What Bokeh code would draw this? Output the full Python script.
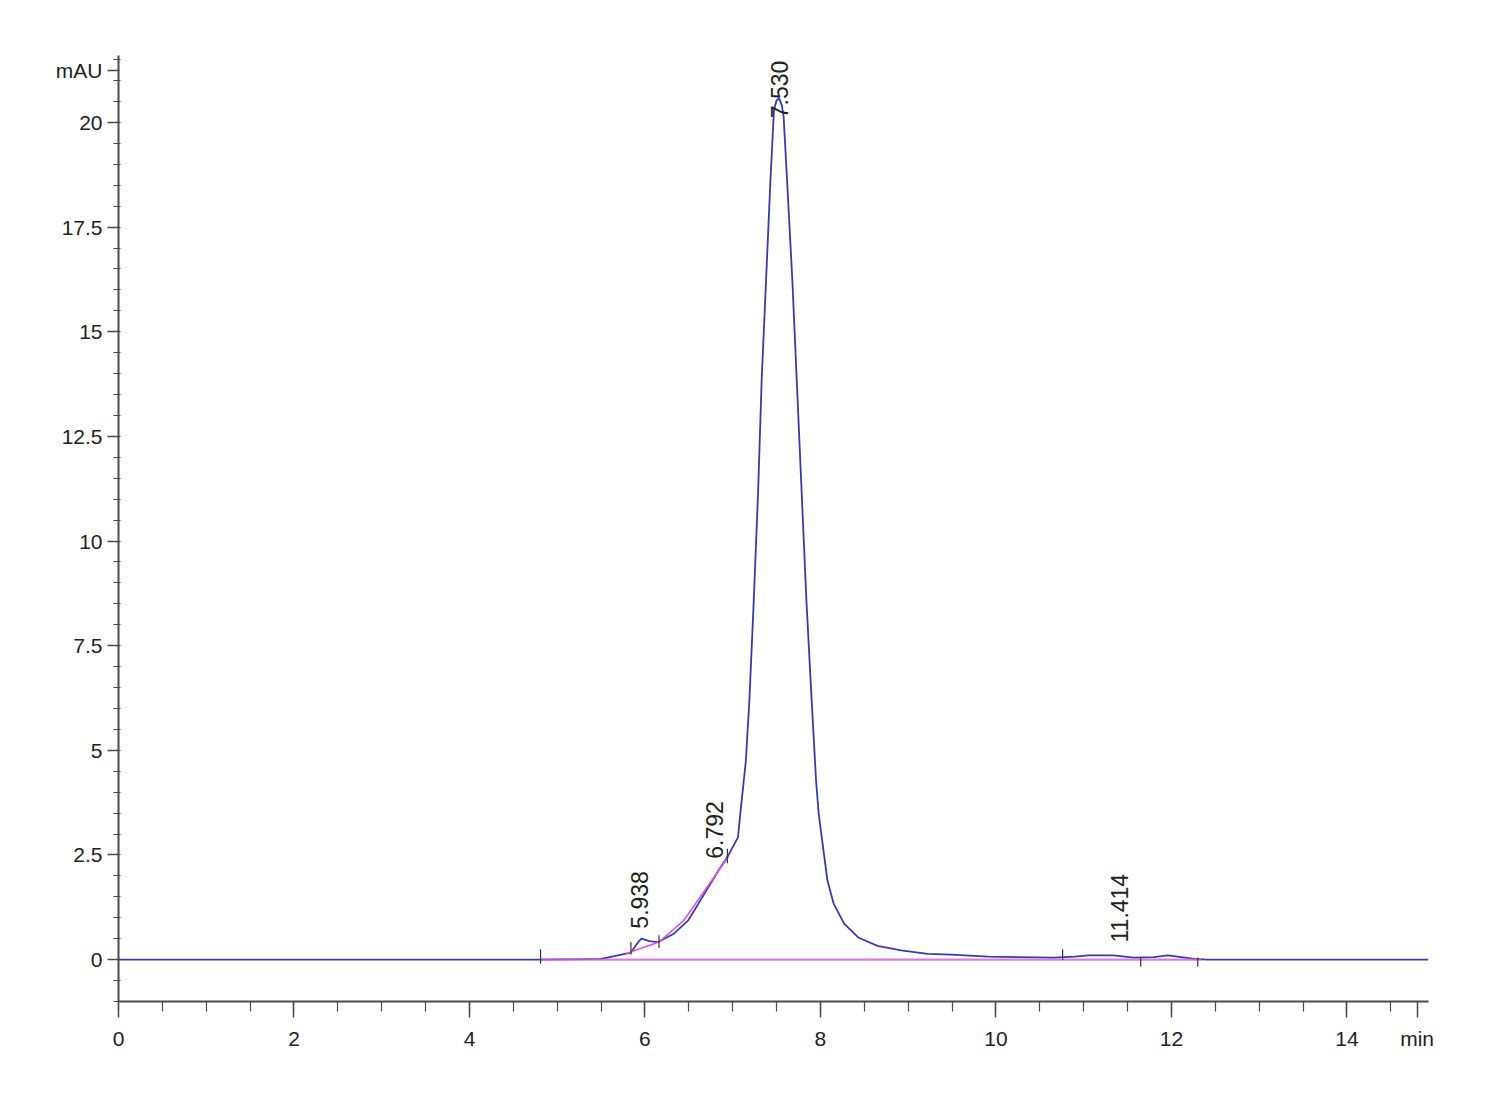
import math
from bokeh.plotting import figure
from bokeh.models import Range1d, FixedTicker, ColumnDataSource
from bokeh.core.properties import value
from bokeh.embed import file_html
from bokeh.resources import INLINE

# ---- data ----
time_min = [0.0, 2.0, 4.0, 4.81, 5.30, 5.50, 5.69, 5.84, 5.92, 5.96, 6.05, 6.15, 6.33,
            6.49, 6.56, 6.72, 6.86, 6.95, 7.06, 7.09, 7.13, 7.15, 7.19, 7.24, 7.29,
            7.33, 7.38, 7.43, 7.47, 7.50, 7.53, 7.56, 7.58, 7.62, 7.68, 7.73, 7.78,
            7.84, 7.90, 7.95, 7.98, 8.03, 8.08, 8.15, 8.27, 8.43, 8.65, 8.92, 9.22,
            9.49, 9.91, 10.66, 10.90, 11.05, 11.34, 11.57, 11.80, 11.96, 12.26, 12.40,
            13.0, 14.0, 14.93]
signal_mau = [0.0, 0.0, 0.0, 0.0, 0.01, 0.02, 0.10, 0.17, 0.41, 0.50, 0.44, 0.42, 0.62,
              0.93, 1.17, 1.72, 2.20, 2.49, 2.92, 3.56, 4.35, 4.75, 6.19, 8.58, 11.20,
              13.84, 16.22, 18.61, 20.29, 20.53, 20.57, 20.41, 20.15, 18.61, 16.22, 13.84, 11.45,
              8.58, 6.19, 4.28, 3.49, 2.68, 1.89, 1.34, 0.86, 0.53, 0.33, 0.22, 0.14,
              0.12, 0.07, 0.05, 0.07, 0.10, 0.10, 0.05, 0.06, 0.10, 0.02, 0.0,
              0.0, 0.0, 0.0]

baseline_t = [4.81, 12.34]
baseline_v = [0.0, 0.0]
skim1_t = [5.78, 6.16]
skim1_v = [0.14, 0.42]
skim2_t = [6.16, 6.44, 6.95]
skim2_v = [0.42, 0.93, 2.46]

marker_t = [4.81, 5.84, 6.16, 6.94, 10.76, 11.65, 12.30]
marker_y0 = [-0.10, 0.12, 0.28, 2.30, 0.00, -0.17, -0.17]
marker_y1 = [0.25, 0.42, 0.58, 2.65, 0.25, 0.05, 0.05]

peak_rt = [5.938, 6.792, 7.530, 11.414]
peak_label = ["5.938", "6.792", "7.530", "11.414"]
peak_label_y = [0.74, 2.41, 20.1, 0.41]

x_ticks = [0, 2, 4, 6, 8, 10, 12, 14, 14.8]
x_tick_labels = ["0", "2", "4", "6", "8", "10", "12", "14", "min"]
y_ticks = [0, 2.5, 5, 7.5, 10, 12.5, 15, 17.5, 20, 21.24]
y_tick_labels = ["0", "2.5", "5", "7.5", "10", "12.5", "15", "17.5", "20", "mAU"]

AXIS_COLOR = "#4a4a4a"
CURVE = "#3b3ba6"
PINK = "#d65ad6"
FONT = "Liberation Sans"

p = figure(width=1484, height=1084,
           x_range=Range1d(0, 14.93), y_range=Range1d(-1.0, 21.6),
           output_backend="svg", toolbar_location=None,
           min_border_left=118, min_border_right=56,
           min_border_top=55, min_border_bottom=83)
p.outline_line_color = None
p.xgrid.visible = False
p.ygrid.visible = False
p.background_fill_color = "white"
p.border_fill_color = "white"

x_minor = [i * 0.5 for i in range(0, 30)]
y_minor = [-1.0 + i * 0.5 for i in range(0, 46)]
p.xaxis.ticker = FixedTicker(ticks=x_ticks, minor_ticks=x_minor)
p.yaxis.ticker = FixedTicker(ticks=y_ticks, minor_ticks=y_minor)
p.xaxis.major_label_overrides = {t: l for t, l in zip(x_ticks, x_tick_labels)}
p.yaxis.major_label_overrides = {t: l for t, l in zip(y_ticks, y_tick_labels)}

for ax in (p.xaxis, p.yaxis):
    ax.axis_line_color = AXIS_COLOR
    ax.axis_line_width = 2
    ax.major_tick_line_color = AXIS_COLOR
    ax.minor_tick_line_color = AXIS_COLOR
    ax.major_tick_line_width = 1.5
    ax.minor_tick_line_width = 1.2
    ax.major_label_text_font = FONT
    ax.major_label_text_font_size = "21px"
    ax.major_label_text_color = "#222222"

p.xaxis.major_tick_out = 16
p.xaxis.major_tick_in = 0
p.xaxis.minor_tick_out = 10
p.xaxis.minor_tick_in = 0
p.xaxis.major_label_standoff = 9

p.yaxis.major_tick_out = 11
p.yaxis.major_tick_in = 1
p.yaxis.minor_tick_out = 5
p.yaxis.minor_tick_in = 2
p.yaxis.major_label_standoff = 5

# signal trace
p.line(time_min, signal_mau, line_color=CURVE, line_width=1.8)
# integration baseline and skims
p.line(baseline_t, baseline_v, line_color=PINK, line_width=2.2, line_alpha=0.8)
p.line(skim1_t, skim1_v, line_color=PINK, line_width=1.6)
p.line(skim2_t, skim2_v, line_color=PINK, line_width=1.6)
# integration event markers
p.segment(x0=marker_t, y0=marker_y0, x1=marker_t, y1=marker_y1,
          line_color="#333333", line_width=1.2)

# peak retention-time labels
src = ColumnDataSource(dict(x=peak_rt, y=peak_label_y, text=peak_label))
p.text(x="x", y="y", text="text", source=src, angle=math.pi / 2,
       text_align="left", text_baseline="middle",
       text_font=value(FONT), text_font_size=value("23px"),
       text_color="#222222")

open("out.html", "w").write(file_html(p, INLINE))
